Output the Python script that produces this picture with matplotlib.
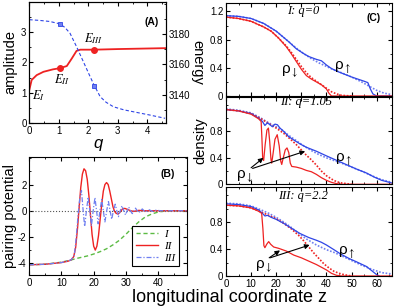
import matplotlib
matplotlib.use("Agg")
import matplotlib.pyplot as plt
from matplotlib.ticker import MultipleLocator

plt.rcParams['font.family'] = ['Liberation Sans', 'DejaVu Sans']
plt.rcParams['mathtext.fontset'] = 'stix'
plt.rcParams['axes.unicode_minus'] = False
plt.rcParams['xtick.direction'] = 'in'
plt.rcParams['ytick.direction'] = 'in'
plt.rcParams['xtick.labelsize'] = 7
plt.rcParams['ytick.labelsize'] = 7
plt.rcParams['xtick.major.size'] = 3
plt.rcParams['ytick.major.size'] = 3
plt.rcParams['xtick.minor.size'] = 1.6
plt.rcParams['ytick.minor.size'] = 1.6
plt.rcParams['axes.linewidth'] = 0.8
plt.rcParams['xtick.major.pad'] = 2
plt.rcParams['ytick.major.pad'] = 2

RED = '#ee2222'
BLUE = '#2f45e6'
BLUE_L = '#6f7ff0'
GREEN = '#5cbb44'

# ---------------- Panel A data ----------------
q_amp = [0, 0.08, 0.25, 0.48, 0.8, 1.04, 1.27, 1.44, 1.6, 1.73, 2.2, 3.0, 3.53, 4.6]
amp = [1.09, 1.42, 1.58, 1.69, 1.77, 1.81, 1.88, 2.13, 2.38, 2.42, 2.42, 2.44, 2.45, 2.47]
q_pts = [1.05, 2.2]
amp_pts = [1.82, 2.42]

q_en = [0, 0.36, 0.7, 1.02, 1.2, 1.38, 1.6, 1.83, 2.06, 2.19, 2.4, 2.6, 2.85, 3.2, 3.53, 4.07, 4.6]
energy = [3189.5, 3189.0, 3188.3, 3186.8, 3184.5, 3180.5, 3171.7, 3161.8, 3151.9, 3146.5,
          3138.7, 3135.0, 3132.0, 3130.0, 3128.7, 3126.6, 3124.4]
q_en_pts = [1.05, 2.2]
energy_pts = [3186.6, 3146.0]

# ---------------- Panel B data ----------------
zB_I = [0, 5, 10, 13, 15, 18, 20, 22, 24, 26, 28, 30, 32, 34, 36, 38, 40, 42, 45, 49]
pB_I = [-4.12, -4.08, -3.92, -3.75, -3.62, -3.45, -3.3, -3.12, -2.9, -2.6, -2.25, -1.8,
        -1.3, -0.85, -0.48, -0.25, -0.1, -0.03, 0.0, 0.0]

zB_II = [0, 5, 10, 12, 13, 13.8, 14.4, 15.0, 15.5, 16.0, 16.5, 17.0, 17.5, 18.0, 18.5, 19.0,
         19.5, 20.0, 20.5, 21.0, 21.5, 22.0, 22.5, 23.0, 23.5, 24.0, 24.5, 25.0, 25.5, 26.0,
         26.5, 27.0, 27.6, 28.2, 29.0, 29.7, 30.5, 31.5, 32.5, 34, 36, 49]
pB_II = [-4.12, -4.08, -3.95, -3.85, -3.75, -3.5, -2.8, -1.3, 0.3, 1.8, 2.8, 3.2, 3.05, 2.4,
         1.2, -0.3, -1.8, -2.7, -3.0, -2.7, -1.9, -0.7, 0.5, 1.5, 2.0, 2.15, 2.0, 1.5, 0.9,
         0.3, -0.05, -0.2, -0.25, -0.1, 0.15, 0.18, 0.1, 0.0, -0.05, 0.03, 0.0, 0.0]

zB_III = [0, 5, 10, 13, 14, 14.6, 15.2, 15.7, 16.2, 16.7, 17.2, 17.75, 18.3, 18.8, 19.3, 19.85,
          20.4, 20.9, 21.4, 21.95, 22.5, 23.0, 23.5, 24.05, 24.6, 25.1, 25.6, 26.15, 26.7,
          27.2, 27.7, 28.25, 28.8, 29.35, 29.9, 30.4, 30.9, 31.45, 32.0, 32.5, 33.0, 33.55,
          34.1, 34.6, 35.1, 35.65, 36.2, 36.7, 37.2, 38.3, 39.3, 41, 49]
pB_III = [-4.12, -4.08, -3.95, -3.75, -3.4, -2.0, -0.2, 1.0, 1.55, 0.1, -1.2, 0.0, 1.05, 0.0,
          -1.15, 0.0, 1.0, 0.0, -1.0, 0.0, 0.85, 0.0, -0.85, 0.0, 0.7, 0.0, -0.65, 0.0, 0.5,
          0.0, -0.45, 0.0, 0.38, 0.0, -0.32, 0.0, 0.28, 0.0, -0.22, 0.0, 0.2, 0.0, -0.15, 0.0,
          0.14, 0.0, -0.1, 0.0, 0.08, -0.05, 0.04, 0.0, 0.0]

# ---------------- Panel C data ----------------
# I: q=0
z_up1 = [0, 5, 10, 15, 20, 25, 28, 31, 33, 36, 38, 40, 42, 45, 50, 55, 56.5, 57.5, 58.5, 60, 66]
up1 = [1.14, 1.13, 1.10, 1.03, 0.92, 0.77, 0.67, 0.60, 0.56, 0.52, 0.50, 0.44, 0.39, 0.34,
       0.27, 0.21, 0.19, 0.10, 0.03, 0.0, 0.0]
z_up1d = [0, 5, 10, 15, 20, 25, 28, 31, 34, 37, 40, 43, 46, 50, 54, 57, 60, 63, 66]
up1d = [1.14, 1.13, 1.10, 1.03, 0.92, 0.77, 0.68, 0.60, 0.53, 0.47, 0.42, 0.37, 0.33, 0.27,
        0.20, 0.14, 0.08, 0.04, 0.02]
z_dn1 = [0, 5, 10, 15, 18, 21, 24, 26, 28, 30, 32, 34, 36, 38, 40, 41, 42, 66]
dn1 = [1.12, 1.10, 1.06, 0.98, 0.92, 0.82, 0.70, 0.60, 0.49, 0.38, 0.29, 0.24, 0.20, 0.16,
       0.10, 0.04, 0.0, 0.0]
z_dn1d = [0, 5, 10, 15, 18, 21, 24, 26, 28, 30, 32, 34, 36, 38, 40, 42, 44, 46, 50]
dn1d = [1.12, 1.10, 1.06, 0.98, 0.92, 0.82, 0.71, 0.62, 0.52, 0.42, 0.33, 0.26, 0.21, 0.16,
        0.11, 0.06, 0.03, 0.01, 0.0]

# II: q=1.05
z_up2 = [0, 5, 10, 13, 14.5, 15.5, 16.5, 17.5, 18.5, 19.5, 20.5, 21.5, 23, 25, 27, 29.5, 32,
         36, 40, 43, 46, 49, 52, 56, 59, 62, 66]
up2 = [1.13, 1.11, 1.07, 1.0, 0.95, 0.89, 0.93, 0.90, 0.87, 0.91, 0.90, 0.85, 0.80, 0.72,
       0.67, 0.61, 0.56, 0.50, 0.43, 0.38, 0.33, 0.28, 0.23, 0.17, 0.11, 0.06, 0.02]
z_up2d = [0, 5, 10, 14, 16, 18, 20, 22, 25, 28, 31, 34, 37, 40, 43, 46, 50, 54, 58, 62, 66]
up2d = [1.14, 1.12, 1.08, 1.0, 0.95, 0.91, 0.87, 0.83, 0.74, 0.66, 0.58, 0.51, 0.45, 0.40,
        0.36, 0.32, 0.26, 0.20, 0.13, 0.07, 0.03]
z_dn2 = [0, 5, 10, 13, 14, 14.3, 14.6, 15.0, 15.6, 16.3, 16.9, 17.4, 17.9, 18.2, 18.7, 19.5,
         20.4, 21.2, 21.8, 22.2, 22.8, 23.6, 24.3, 25.0, 25.6, 26.2, 28, 30, 32, 34, 36, 38,
         40, 42, 44, 46, 66]
dn2 = [1.13, 1.11, 1.06, 0.99, 0.95, 0.70, 0.40, 0.36, 0.60, 0.82, 0.85, 0.65, 0.38, 0.32,
       0.45, 0.68, 0.75, 0.58, 0.35, 0.30, 0.40, 0.52, 0.55, 0.48, 0.32, 0.27, 0.26, 0.24,
       0.21, 0.19, 0.15, 0.10, 0.06, 0.03, 0.01, 0.0, 0.0]
z_dn2d = [0, 5, 10, 14, 17, 20, 23, 26, 28, 30, 32, 34, 36, 38, 40, 42, 44, 46, 50]
dn2d = [1.13, 1.11, 1.07, 0.99, 0.92, 0.85, 0.77, 0.67, 0.60, 0.52, 0.44, 0.37, 0.29, 0.20,
        0.13, 0.08, 0.04, 0.02, 0.0]

# III: q=2.2
z_up3 = [0, 5, 10, 13, 14.5, 15.5, 16.5, 18, 20, 23, 26, 29.5, 33, 36, 38, 40, 43, 45.5, 49,
         52, 56, 58, 60, 61]
up3 = [1.07, 1.06, 1.03, 0.98, 0.93, 0.89, 0.90, 0.87, 0.84, 0.78, 0.71, 0.63, 0.57, 0.53,
       0.50, 0.46, 0.39, 0.33, 0.26, 0.21, 0.14, 0.08, 0.02, 0.0]
z_up3d = [0, 5, 10, 14, 17, 20, 23, 26, 29, 32, 36, 40, 43, 46, 50, 54, 58, 62, 66]
up3d = [1.08, 1.07, 1.04, 0.98, 0.93, 0.87, 0.80, 0.72, 0.63, 0.55, 0.46, 0.39, 0.35, 0.30,
        0.23, 0.16, 0.10, 0.05, 0.03]
z_dn3 = [0, 5, 10, 13, 14.2, 14.7, 15.1, 15.5, 16.2, 17.0, 17.8, 19, 21, 24, 27, 30, 33, 36,
         38, 40, 42, 44, 46, 66]
dn3 = [1.05, 1.04, 1.01, 0.96, 0.93, 0.70, 0.45, 0.42, 0.47, 0.51, 0.47, 0.43, 0.41, 0.37,
       0.31, 0.27, 0.22, 0.17, 0.13, 0.09, 0.04, 0.01, 0.0, 0.0]
z_dn3d = [0, 5, 10, 14, 17, 20, 23, 26, 29, 31, 33, 35, 37, 39, 41, 43, 45, 47, 50]
dn3d = [1.05, 1.04, 1.01, 0.95, 0.90, 0.85, 0.78, 0.70, 0.60, 0.52, 0.43, 0.34, 0.26, 0.18,
        0.12, 0.07, 0.04, 0.02, 0.0]

C_titles = ['I: q=0', 'II: q=1.05', 'III: q=2.2']
legend_labels = ['I', 'II', 'III']

# ---------------- Figure ----------------
fig = plt.figure(figsize=(3.94, 3.07), dpi=100)
W, H = 394.0, 307.0

def rect(x0, y0, x1, y1):
    return [x0 / W, 1 - y1 / H, (x1 - x0) / W, (y1 - y0) / H]

serif_it = dict(family=['Liberation Serif', 'DejaVu Serif'], style='italic')
RHO_DN = 'ρ$_{\\downarrow}$'
RHO_UP = 'ρ$_{\\uparrow}$'

# Panel A
axA = fig.add_axes(rect(29.3, 1.8, 166, 123))
axA.plot(q_amp, amp, color=RED, lw=1.3)
axA.plot(q_pts, amp_pts, 'o', color=RED, ms=4)
axA.set_xlim(0, 4.63)
axA.set_ylim(0, 4.0)
axA.set_yticks([0, 1, 2, 3])
axA.set_xticks([0, 1, 2, 3, 4])
axA.xaxis.set_minor_locator(MultipleLocator(0.5))
axA.yaxis.set_minor_locator(MultipleLocator(0.5))
axA.tick_params(which='both', top=True)
axA.set_ylabel('amplitude', fontsize=10.5)
axA.yaxis.set_label_coords((17 - 29.3) / 136.7, 0.5)
axA.set_xlabel('q', fontsize=12, style='italic', labelpad=0)
axA.text(0.3, 0.92, '$E_{I}$', fontsize=9, ha='center', va='center')
axA.text(1.1, 1.42, '$E_{II}$', fontsize=9, ha='center', va='center')
axA.text(2.18, 2.78, '$E_{III}$', fontsize=9, ha='center', va='center')
axA.text(4.15, 3.34, '(A)', fontsize=7.5, fontweight='bold', ha='center', va='center')

axA2 = axA.twinx()
axA2.plot(q_en, energy, color=BLUE, lw=0.8, ls=(0, (3, 2)))
axA2.plot(q_en_pts, energy_pts, 's', color=BLUE, ms=3, mfc=BLUE_L, mec=BLUE, mew=0.6)
axA2.set_ylim(3121.3, 3201.3)
axA2.set_yticks([3140, 3160, 3180])
axA2.yaxis.set_minor_locator(MultipleLocator(10))
axA2.set_ylabel('energy', fontsize=10.5, rotation=270, labelpad=10)

# Panel B
axB = fig.add_axes(rect(29.3, 157, 187, 275))
axB.axhline(0, color='#555555', lw=0.8, ls=':')
lI, = axB.plot(zB_I, pB_I, color=GREEN, lw=1.0, ls=(0, (3, 2)))
lII, = axB.plot(zB_II, pB_II, color=RED, lw=1.0)
lIII, = axB.plot(zB_III, pB_III, color=BLUE_L, lw=0.9, ls=(0, (4, 1.5, 1, 1.5)))
axB.set_xlim(0, 49)
axB.set_ylim(-4.9, 4.1)
axB.set_xticks([0, 10, 20, 30, 40])
axB.set_yticks([-4, -2, 0, 2])
axB.xaxis.set_minor_locator(MultipleLocator(5))
axB.yaxis.set_minor_locator(MultipleLocator(1))
axB.tick_params(which='both', top=True, right=True)
axB.set_ylabel('pairing potential', fontsize=10.5)
axB.yaxis.set_label_coords((17 - 29.3) / 157.7, 0.5)
axB.text(43, 2.83, '(B)', fontsize=7.5, fontweight='bold', ha='center', va='center')
leg = axB.legend([lI, lII, lIII], legend_labels, loc='lower right',
                 prop=dict(family='Liberation Serif', style='italic', size=8),
                 fancybox=False, edgecolor='black', framealpha=1, handlelength=2.0,
                 borderpad=0.3, labelspacing=0.2, handletextpad=0.6,
                 bbox_to_anchor=(0.985, 0.025))
leg.get_frame().set_linewidth(0.8)

# Panel C
C_rects = [rect(226, 3, 391.7, 96), rect(226, 97, 391.7, 184.3), rect(226, 187, 391.7, 276)]
C_data = [
    (z_up1, up1, z_up1d, up1d, z_dn1, dn1, z_dn1d, dn1d),
    (z_up2, up2, z_up2d, up2d, z_dn2, dn2, z_dn2d, dn2d),
    (z_up3, up3, z_up3d, up3d, z_dn3, dn3, z_dn3d, dn3d),
]
title_pos = [(30.8, 1.21), (32, 1.24), (30.8, 1.18)]
axesC = []
for i, (r, d) in enumerate(zip(C_rects, C_data)):
    ax = fig.add_axes(r)
    zu, u, zud, ud, zd, dn, zdd, dd = d
    ax.plot(zud, ud, color=BLUE_L, lw=1.2, ls=(0, (1, 1)))
    ax.plot(zdd, dd, color=RED, lw=1.2, ls=(0, (1, 1)))
    ax.plot(zu, u, color=BLUE, lw=0.9)
    ax.plot(zd, dn, color=RED, lw=0.9)
    ax.set_xlim(0, 66)
    ax.set_ylim(0, 1.32)
    ax.set_xticks([0, 10, 20, 30, 40, 50, 60])
    ax.xaxis.set_minor_locator(MultipleLocator(5))
    ax.yaxis.set_minor_locator(MultipleLocator(0.2))
    if i == 0:
        ax.set_yticks([0, 0.4, 0.8, 1.2])
        ax.set_yticklabels(['0', '0.4', '0.8', '1.2'])
    else:
        ax.set_yticks([0, 0.4, 0.8])
        ax.set_yticklabels(['0', '0.4', '0.8'])
    ax.tick_params(which='both', top=True, right=True)
    if i < 2:
        ax.tick_params(labelbottom=False)
    ax.text(title_pos[i][0], title_pos[i][1], C_titles[i], fontsize=9, ha='center',
            va='center', **serif_it)
    axesC.append(ax)

ax1, ax2, ax3 = axesC
ax1.text(58.6, 1.1, '(C)', fontsize=7.5, fontweight='bold', ha='center', va='center')
ax1.text(25.2, 0.36, RHO_DN, fontsize=11, ha='center', va='center')
ax1.text(46.5, 0.41, RHO_UP, fontsize=11, ha='center', va='center')

ax2.set_ylabel('density', fontsize=10.5)
ax2.yaxis.set_label_coords((207 - 226) / 165.7, 0.5)
ax2.text(7.3, 0.13, RHO_DN, fontsize=11, ha='center', va='center')
ax2.text(46.8, 0.38, RHO_UP, fontsize=11, ha='center', va='center')
arr = dict(arrowstyle='-|>', color='black', lw=0.8, mutation_scale=7, shrinkA=0, shrinkB=0)
ax2.annotate('', xy=(14.9, 0.40), xytext=(10.0, 0.25), arrowprops=arr)
ax2.annotate('', xy=(31.5, 0.50), xytext=(10.6, 0.24), arrowprops=arr)

ax3.text(14.9, 0.15, RHO_DN, fontsize=11, ha='center', va='center')
ax3.text(48.2, 0.36, RHO_UP, fontsize=11, ha='center', va='center')
ax3.annotate('', xy=(21.5, 0.38), xytext=(17.2, 0.27), arrowprops=arr)
ax3.annotate('', xy=(33.3, 0.46), xytext=(17.6, 0.27), arrowprops=arr)

fig.text(229 / W, 1 - 297 / H, 'longitudinal coordinate z', fontsize=13, ha='center',
         va='center')

fig.savefig('out.png', dpi=100)
